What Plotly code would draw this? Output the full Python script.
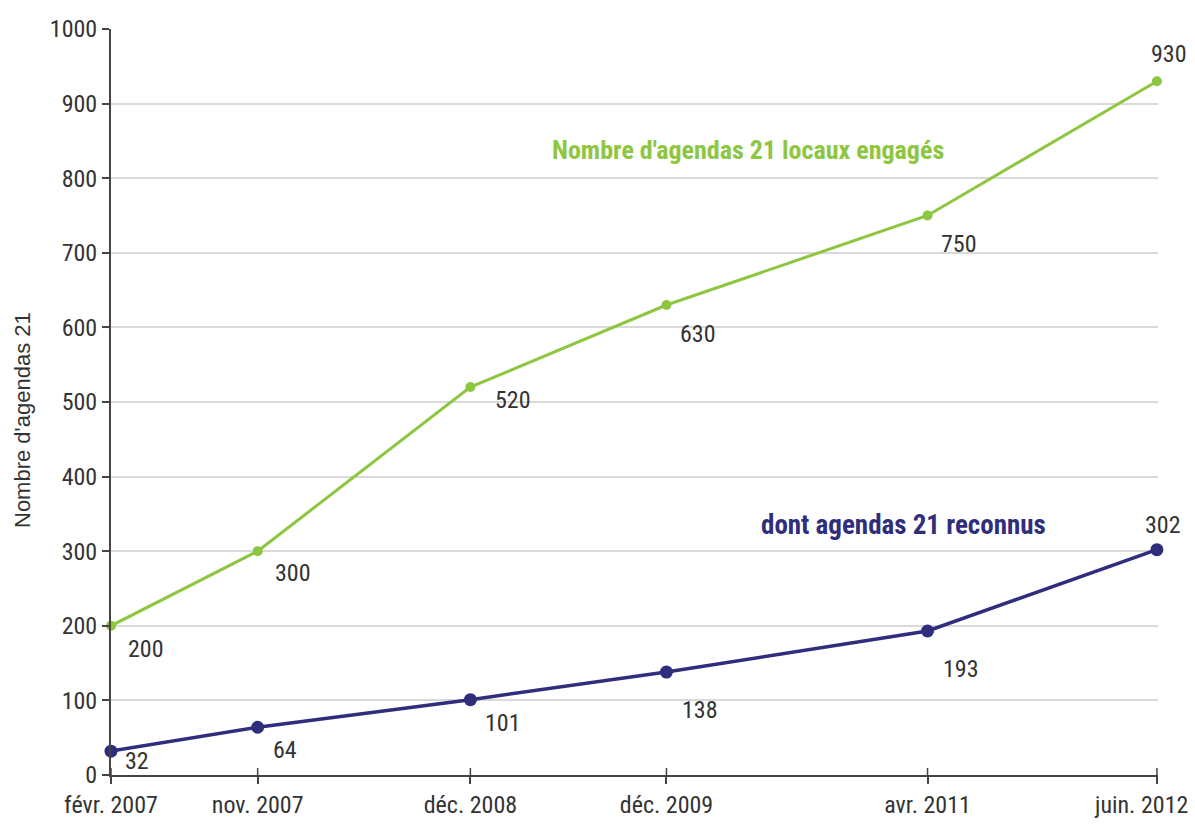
import plotly.graph_objects as go

# Survey dates and counts of local Agenda 21 projects
dates = ["2007-02-01", "2007-11-01", "2008-12-01", "2009-12-01", "2011-04-01", "2012-06-01"]
date_labels = ["févr. 2007", "nov. 2007", "déc. 2008", "déc. 2009", "avr. 2011", "juin. 2012"]
engages = [200, 300, 520, 630, 750, 930]
reconnus = [32, 64, 101, 138, 193, 302]

GREEN = "#8dc63f"
NAVY = "#2f2e7c"
TEXT = "#333333"
AXIS = "#444444"
NARROW = "Roboto Condensed, Liberation Sans, sans-serif"

# pixel offsets of the value annotations relative to their points
green_offsets = [(35, -23), (35, -22), (43, -13), (32, -29), (31, -28), (12, 27)]
navy_offsets = [(26, -10), (27, -23), (33, -23), (34, -38), (33, -38), (6, 25)]

fig = go.Figure()
fig.add_trace(go.Scatter(
    x=dates, y=engages, mode="lines+markers",
    line=dict(color=GREEN, width=3), marker=dict(color=GREEN, size=10),
    cliponaxis=False, showlegend=False, hoverinfo="x+y",
))
fig.add_trace(go.Scatter(
    x=dates, y=reconnus, mode="lines+markers",
    line=dict(color=NAVY, width=3.5), marker=dict(color=NAVY, size=13),
    cliponaxis=False, showlegend=False, hoverinfo="x+y",
))

for d, v, (dx, dy) in zip(dates, engages, green_offsets):
    fig.add_annotation(x=d, y=v, text=str(v), showarrow=False, xshift=dx, yshift=dy,
                       font=dict(family=NARROW, size=24, color=TEXT))
for d, v, (dx, dy) in zip(dates, reconnus, navy_offsets):
    fig.add_annotation(x=d, y=v, text=str(v), showarrow=False, xshift=dx, yshift=dy,
                       font=dict(family=NARROW, size=24, color=TEXT))

# series names written next to the lines
fig.add_annotation(x="2010-05-01", y=838, text="<b>Nombre d'agendas 21 locaux engagés</b>",
                   showarrow=False, font=dict(family=NARROW, size=26, color=GREEN))
fig.add_annotation(x="2011-02-15", y=335, text="<b>dont agendas 21 reconnus</b>",
                   showarrow=False, font=dict(family=NARROW, size=27, color=NAVY))

# y axis title
fig.add_annotation(xref="paper", yref="paper", x=0, y=0.5, xanchor="center", yanchor="middle",
                   xshift=-89, yshift=-18,
                   text="Nombre d'agendas 21", textangle=-90, showarrow=False,
                   font=dict(family="Liberation Sans, Arial, sans-serif", size=22, color=TEXT))

# the last date label sits flush with the right edge instead of centred on its tick
tick_text = date_labels[:-1] + [""]
fig.add_annotation(x=dates[-1], xref="x", yref="paper", y=0, xanchor="right", yanchor="middle",
                   xshift=33, yshift=-30, text=date_labels[-1], showarrow=False,
                   font=dict(family=NARROW, size=24, color=TEXT))

# tick marks reaching above the x axis
for d in dates:
    fig.add_shape(type="line", xref="x", yref="y", x0=d, x1=d, y0=0, y1=7,
                  ysizemode="pixel", yanchor=0, line=dict(color=AXIS, width=1.5))

fig.update_layout(
    width=1195, height=834,
    margin=dict(l=111, r=37, t=29, b=59, autoexpand=False),
    paper_bgcolor="white", plot_bgcolor="white",
    font=dict(family=NARROW, size=24, color=TEXT),
)
fig.update_xaxes(
    type="date", range=["2007-02-01", "2012-06-03"], automargin=False,
    tickmode="array", tickvals=dates, ticktext=tick_text,
    showgrid=False, showline=True, linecolor=AXIS, linewidth=2,
    ticks="outside", ticklen=7, tickwidth=1.5, tickcolor=AXIS,
    ticklabeloverflow="allow",
    tickfont=dict(family=NARROW, size=24, color=TEXT), zeroline=False,
)
fig.update_yaxes(
    range=[0, 1000], tickmode="linear", tick0=0, dtick=100, automargin=False,
    showgrid=True, gridcolor="#d9d9d9", gridwidth=1.5,
    showline=True, linecolor=AXIS, linewidth=2,
    ticks="outside", ticklen=7, tickwidth=1.5, tickcolor=AXIS,
    tickfont=dict(family=NARROW, size=24, color=TEXT), zeroline=False,
)

fig.write_html("out.html")
